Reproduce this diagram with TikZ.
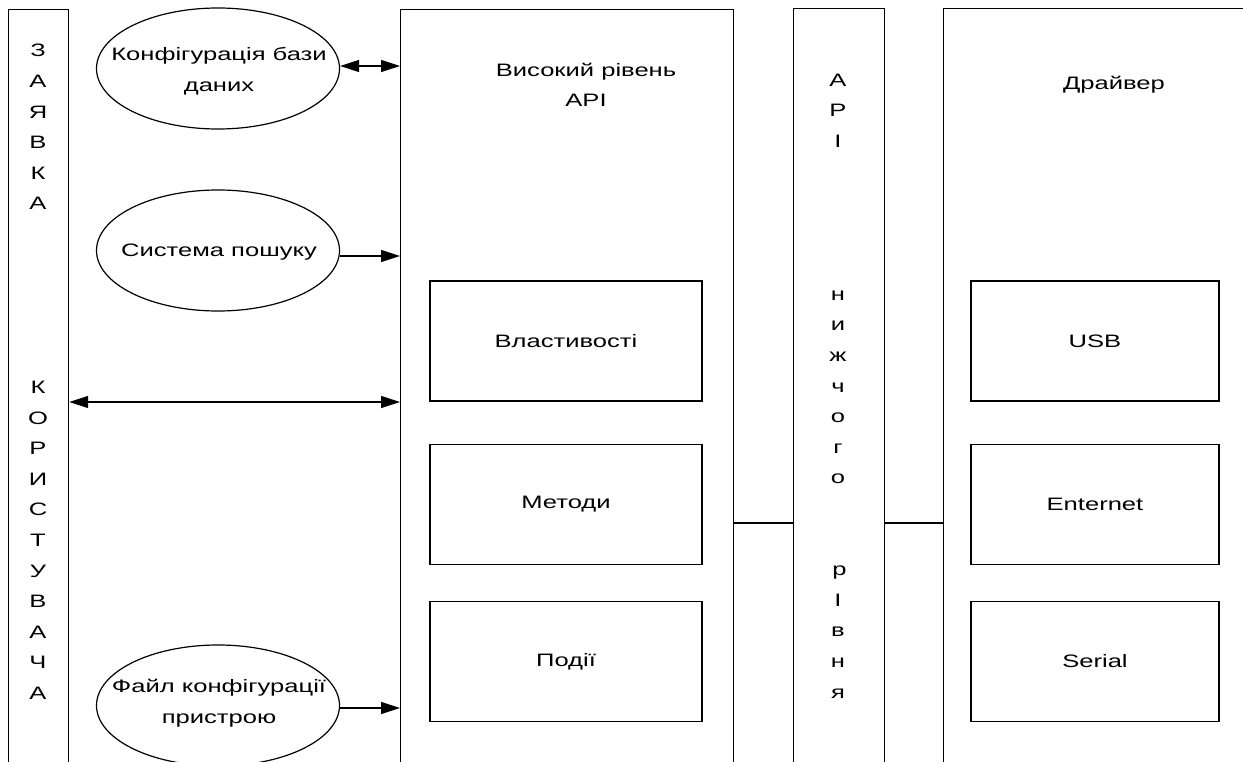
\documentclass[tikz,border=0pt]{standalone}
\usepackage{fontspec}
\setmainfont{Liberation Sans}[FakeStretch=1.42]
\usetikzlibrary{shapes.geometric,arrows.meta}
\tikzset{
  every node/.style={font=\fontsize{18}{30.6}\selectfont, inner sep=0pt},
  tallbox/.style={draw, line width=1.2pt, rectangle, anchor=north west},
  innerbox/.style={draw, line width=1.2pt, rectangle, minimum width=272pt, minimum height=120pt},
  oval/.style={draw, line width=1.2pt, ellipse, minimum width=243pt, minimum height=121pt},
  conn/.style={line width=1.2pt},
  arr/.style={conn, -{Triangle[length=19pt,width=12pt]}},
  darr/.style={conn, {Triangle[length=19pt,width=12pt]}-{Triangle[length=19pt,width=12pt]}},
  col/.style={align=center}
}
\begin{document}
\begin{tikzpicture}[x=1pt,y=-1pt]
\useasboundingbox (0,0) rectangle (1243,762);
\fill[white] (0,0) rectangle (1243,762);
\clip (0,0) rectangle (1243,762);
% tall boxes (open beyond the bottom edge)
\node[tallbox, minimum width=60pt, minimum height=800pt] (app) at (8,9) {};
\node[tallbox, minimum width=333pt, minimum height=800pt] (hl) at (400,9) {};
\node[tallbox, minimum width=91pt, minimum height=800pt] (ll) at (793,8) {};
\node[tallbox, minimum width=360pt, minimum height=800pt] (drv) at (943,8) {};
% column texts
\node[col] (apptxt) at (38,372) {З\\А\\Я\\В\\К\\А\\\mbox{}\\\mbox{}\\\mbox{}\\\mbox{}\\\mbox{}\\К\\О\\Р\\И\\С\\Т\\У\\В\\А\\Ч\\А};
\node[col] (lltxt) at (838,386) {А\\Р\\І\\\mbox{}\\\mbox{}\\\mbox{}\\\mbox{}\\н\\и\\ж\\ч\\о\\г\\о\\\mbox{}\\\mbox{}\\\,р\\І\\в\\н\\я};
% titles
\node[col] (hltitle) at (586,85) {Високий рівень\\API};
\node (drvtitle) at (1114,85) {Драйвер};
% inner boxes
\node[innerbox] (prop) at (566,341) {Властивості};
\node[innerbox] (meth) at (566,504.5) {Методи};
\node[innerbox] (evt) at (566,661.5) {Події};
\node[innerbox, minimum width=248pt] (usb) at (1095,341) {USB};
\node[innerbox, minimum width=248pt] (eth) at (1095,504.5) {Enternet};
\node[innerbox, minimum width=248pt] (ser) at (1095,661.5) {Serial};
% ellipses
\node[oval] (db) at (218,68.5) {};
\node[col] (dbtxt) at (219,71) {Конфігурація бази\\даних};
\node[oval] (search) at (218,250.5) {};
\node (searchtxt) at (219,252) {Система пошуку};
\node[oval] (devcfg) at (218,705.5) {};
\node[col] (devcfgtxt) at (219,703) {Файл конфігурації\\пристрою};
% connectors
\draw[darr] (db.east |- 0,66) -- (hl.west |- 0,66);
\draw[arr] (search.east |- 0,256) -- (hl.west |- 0,256);
\draw[arr] (devcfg.east |- 0,708) -- (hl.west |- 0,708);
\draw[darr] (app.east |- 0,402) -- (hl.west |- 0,402);
\draw[conn] (hl.east |- 0,523) -- (ll.west |- 0,523);
\draw[conn] (ll.east |- 0,523) -- (drv.west |- 0,523);
\end{tikzpicture}
\end{document}
